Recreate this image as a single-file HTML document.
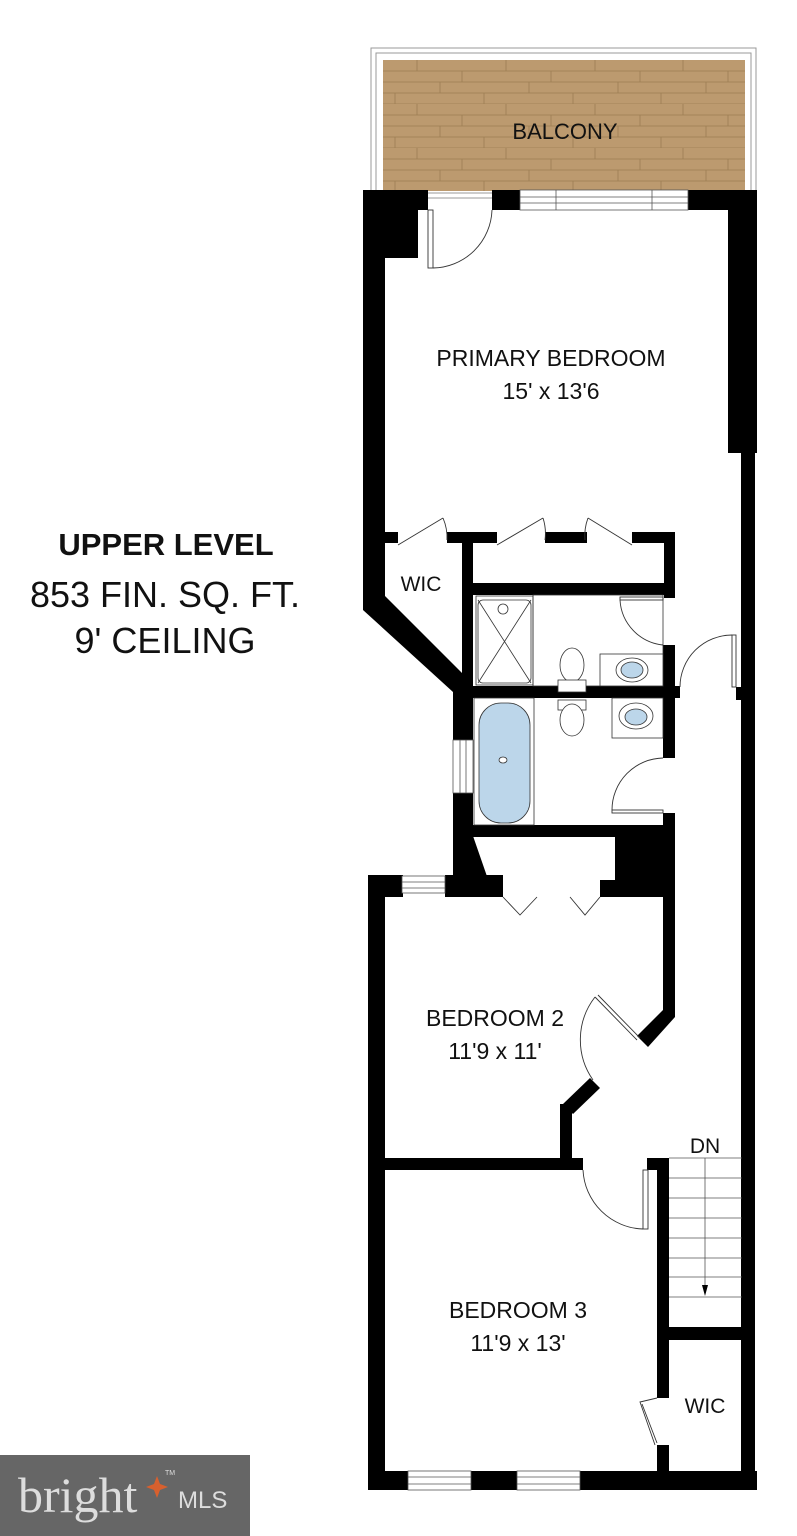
<!DOCTYPE html>
<html><head><meta charset="utf-8"><style>
html,body{margin:0;padding:0;background:#fff}
svg{display:block}
text{font-family:"Liberation Sans",sans-serif;fill:#111}
</style></head><body>
<svg width="797" height="1536" viewBox="0 0 797 1536" xmlns="http://www.w3.org/2000/svg">
<defs>
<pattern id="pl" x="383" y="60" width="266" height="44" patternUnits="userSpaceOnUse">
<rect width="266" height="44" fill="#bc9a6f"/>
<g stroke="#9c7c52" stroke-width="0.8">
<line x1="0" y1="11" x2="266" y2="11"/><line x1="0" y1="22" x2="266" y2="22"/><line x1="0" y1="33" x2="266" y2="33"/><line x1="0" y1="44" x2="266" y2="44"/>
<line x1="34" y1="0" x2="34" y2="11"/><line x1="123" y1="0" x2="123" y2="11"/><line x1="212" y1="0" x2="212" y2="11"/>
<line x1="79" y1="11" x2="79" y2="22"/><line x1="168" y1="11" x2="168" y2="22"/><line x1="257" y1="11" x2="257" y2="22"/>
<line x1="57" y1="22" x2="57" y2="33"/><line x1="146" y1="22" x2="146" y2="33"/><line x1="235" y1="22" x2="235" y2="33"/>
<line x1="12" y1="33" x2="12" y2="44"/><line x1="101" y1="33" x2="101" y2="44"/><line x1="190" y1="33" x2="190" y2="44"/>
</g></pattern>
</defs>
<rect x="371" y="48" width="385" height="150" fill="none" stroke="#999" stroke-width="1"/>
<rect x="376" y="53" width="375" height="140" fill="none" stroke="#999" stroke-width="1"/>
<rect x="383" y="60" width="362" height="131" fill="url(#pl)"/>
<text x="565" y="139" font-size="22" text-anchor="middle">BALCONY</text>

<g fill="#000">
<rect x="363" y="190" width="65" height="20"/>
<rect x="363" y="190" width="55" height="68"/>
<rect x="492" y="190" width="28" height="20"/>
<rect x="688" y="190" width="69" height="20"/>
<rect x="728" y="190" width="29" height="263"/>
<rect x="741" y="450" width="14" height="1040"/>
<rect x="363" y="190" width="22" height="410"/>
<polygon points="363,598 385,596 462,673 473,673 473,692 453,692 363,610"/>
<rect x="385" y="532" width="13" height="11"/>
<rect x="447" y="532" width="50" height="11"/>
<rect x="545" y="532" width="42" height="11"/>
<rect x="632" y="532" width="43" height="11"/>
<rect x="664" y="532" width="11" height="66"/>
<rect x="462" y="532" width="11" height="360"/>
<rect x="453" y="686" width="20" height="150"/>
<rect x="462" y="583" width="213" height="12"/>
<rect x="453" y="686" width="227" height="12"/>
<rect x="663" y="645" width="12" height="113"/>
<rect x="663" y="813" width="12" height="24"/>
<rect x="453" y="825" width="222" height="12"/>
<rect x="736" y="687" width="6" height="13"/>
<polygon points="453,836 473,836 490,885 503,885 503,897 453,897"/>
<rect x="615" y="836" width="60" height="50"/>
<rect x="368" y="875" width="35" height="22"/>
<rect x="445" y="875" width="58" height="22"/>
<rect x="600" y="880" width="75" height="17"/>
<rect x="663" y="880" width="12" height="137"/>
<polygon points="663,1010 675,1017 648,1047 637,1036"/>
<polygon points="590,1078 600,1088 573,1114 563,1104"/>
<rect x="560" y="1104" width="12" height="56"/>
<rect x="368" y="875" width="17" height="615"/>
<rect x="368" y="1158" width="215" height="12"/>
<rect x="647" y="1158" width="22" height="12"/>
<rect x="657" y="1158" width="12" height="170"/>
<rect x="657" y="1327" width="85" height="13"/>
<rect x="657" y="1340" width="12" height="58"/>
<rect x="657" y="1445" width="12" height="30"/>
<rect x="368" y="1471" width="389" height="19"/>
</g>
<g fill="#fff" stroke="#555" stroke-width="0.8">
<rect x="520" y="190" width="168" height="20"/>
<rect x="453" y="740" width="20" height="53"/>
<rect x="402" y="876" width="43" height="17"/>
<rect x="408" y="1471" width="63" height="19"/>
<rect x="517" y="1471" width="63" height="19"/>
</g>
<g stroke="#555" stroke-width="0.8">
<line x1="520" y1="197" x2="688" y2="197"/><line x1="520" y1="203" x2="688" y2="203"/>
<line x1="556" y1="190" x2="556" y2="210"/><line x1="652" y1="190" x2="652" y2="210"/>
<line x1="460" y1="740" x2="460" y2="793"/><line x1="466" y1="740" x2="466" y2="793"/>
<line x1="402" y1="882" x2="445" y2="882"/><line x1="402" y1="888" x2="445" y2="888"/>
<line x1="408" y1="1477" x2="471" y2="1477"/><line x1="408" y1="1484" x2="471" y2="1484"/>
<line x1="517" y1="1477" x2="580" y2="1477"/><line x1="517" y1="1484" x2="580" y2="1484"/>
</g>
<g fill="none" stroke="#333" stroke-width="0.9">
<rect x="428" y="210" width="5" height="58" fill="#fff"/>
<path d="M433 268 A60 60 0 0 0 492 210"/>
<path d="M398 545 L443 518 M443 518 A50 50 0 0 1 447 540"/>
<path d="M497 545 L543 518 M543 518 A50 50 0 0 1 545 540"/>
<path d="M632 545 L588 518 M588 518 A50 50 0 0 0 585 540"/>
<rect x="620" y="597" width="43" height="3"/>
<path d="M620 600 A48 48 0 0 0 663 645"/>
<rect x="732" y="635" width="4" height="52"/>
<path d="M732 635 A52 52 0 0 0 680 687"/>
<rect x="612" y="810" width="51" height="3"/>
<path d="M612 810 A52 52 0 0 1 663 758"/>
<path d="M503 897 L520 915 L537 897"/>
<path d="M570 897 L585 915 L600 897"/>
<path d="M595 997 L637 1040 M598 995 L640 1038"/>
<path d="M595 997 A70 70 0 0 0 593 1080"/>
<rect x="643" y="1170" width="5" height="59"/>
<path d="M583 1170 A62 62 0 0 0 643 1229"/>
<path d="M657 1398 L640 1402 L655 1445 M642 1404 L657 1443"/>
</g>
<g fill="#fff" stroke="#333" stroke-width="0.8">
<rect x="476" y="596" width="57" height="89"/>
<rect x="478" y="600" width="53" height="83" rx="5"/>
<path d="M478 600 L531 683 M531 600 L478 683"/>
<circle cx="503" cy="609" r="5"/>
<rect x="533" y="595" width="130" height="91" fill="none"/>
<ellipse cx="572" cy="665" rx="12" ry="17"/>
<rect x="558" y="680" width="28" height="12"/>
<rect x="558" y="700" width="28" height="10"/>
<ellipse cx="572" cy="720" rx="12" ry="16"/>
<rect x="600" y="654" width="63" height="32"/>
<ellipse cx="632" cy="670" rx="16" ry="12" fill="#fff"/>
<ellipse cx="632" cy="670" rx="11" ry="8" fill="#bcd6ea"/>
<rect x="612" y="698" width="51" height="40"/>
<ellipse cx="636" cy="716" rx="17" ry="13"/>
<ellipse cx="636" cy="717" rx="11" ry="8" fill="#bcd6ea"/>
<rect x="474" y="698" width="60" height="127" fill="none"/>
<rect x="479" y="703" width="51" height="120" rx="22" fill="#bcd6ea"/>
<ellipse cx="503" cy="760" rx="4" ry="3"/>
</g>
<g stroke="#555" stroke-width="0.8" fill="none">
<line x1="669" y1="1158" x2="742" y2="1158"/>
<line x1="669" y1="1178" x2="742" y2="1178"/><line x1="669" y1="1198" x2="742" y2="1198"/>
<line x1="669" y1="1218" x2="742" y2="1218"/><line x1="669" y1="1238" x2="742" y2="1238"/>
<line x1="669" y1="1258" x2="742" y2="1258"/><line x1="669" y1="1277" x2="742" y2="1277"/>
<line x1="669" y1="1297" x2="742" y2="1297"/>
<line x1="705" y1="1158" x2="705" y2="1292"/>
</g>
<polygon points="702,1285 708,1285 705,1296" fill="#000"/>
<g font-size="23" text-anchor="middle">
<text x="551" y="366">PRIMARY BEDROOM</text>
<text x="551" y="399">15' x 13'6</text>
<text x="421" y="591" font-size="21">WIC</text>
<text x="495" y="1026">BEDROOM 2</text>
<text x="495" y="1059">11'9 x 11'</text>
<text x="705" y="1153" font-size="21">DN</text>
<text x="518" y="1318">BEDROOM 3</text>
<text x="518" y="1351">11'9 x 13'</text>
<text x="705" y="1413" font-size="21">WIC</text>
</g>
<g text-anchor="middle">
<text x="166" y="555" font-size="31" font-weight="bold">UPPER LEVEL</text>
<text x="165" y="607" font-size="36">853 FIN. SQ. FT.</text>
<text x="165" y="653" font-size="36">9' CEILING</text>
</g>
<rect x="0" y="1455" width="250" height="81" fill="#666"/>
<text x="18" y="1512" font-size="50" style="fill:#ddd;font-family:'Liberation Serif',serif">bright</text>
<text x="178" y="1508" font-size="24" style="fill:#ddd">MLS</text>
<polygon points="157,1476 160,1484 168,1487 160,1490 157,1498 154,1490 146,1487 154,1484" fill="#d8602e"/>
<text x="165" y="1475" font-size="7" style="fill:#ddd">TM</text>
</svg>
</body></html>
